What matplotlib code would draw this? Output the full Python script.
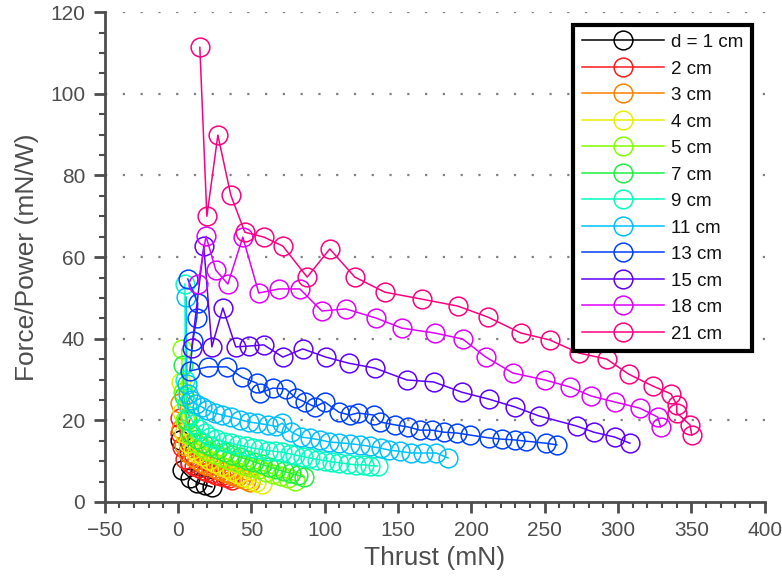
import matplotlib
matplotlib.use('Agg')
from matplotlib import pyplot as plt
from matplotlib.ticker import MultipleLocator

plt.rcParams['font.family'] = ['Liberation Sans Narrow', 'Liberation Sans', 'DejaVu Sans']

labels = ['d = 1 cm', '2 cm', '3 cm', '4 cm', '5 cm', '7 cm', '9 cm', '11 cm', '13 cm', '15 cm', '18 cm', '21 cm']
colors = ['#000000', '#ff1a1a', '#ff8000', '#e6f000', '#80ff00', '#20f040',
          '#00ffc0', '#00c0ff', '#0040ff', '#6000ff', '#e000ff', '#ff0080']

# thrust (mN) and force/power (mN/W) per distance
t1 = [1, 2.5, 8, 13, 18, 23]
f1 = [15.2, 7.8, 5.9, 4.7, 4.2, 3.7]

t2 = [1, 1.5, 2.5, 5, 8, 11, 14, 17, 20, 23, 26, 29, 32, 35, 37]
f2 = [20.6, 17, 13.5, 10.5, 9.5, 8.8, 8.3, 7.8, 7.4, 7, 6.7, 6.4, 6.1, 5.8, 5.4]

t3 = [1.5, 2, 4, 7, 10, 13, 16, 19, 22, 25, 28, 31, 34, 37, 40, 43, 46, 49]
f3 = [24.2, 18, 14, 12, 11, 10.2, 9.6, 9.1, 8.7, 8.2, 7.8, 7.4, 7, 6.6, 6.2, 5.8, 5.4, 5]

t4 = [2, 2.5, 4, 7, 10, 13, 17, 21, 25, 29, 33, 37, 41, 45, 49, 53, 57]
f4 = [29.5, 22, 17, 14.5, 13, 12, 11.2, 10.4, 9.6, 8.8, 8.2, 7.5, 6.9, 6.2, 5.6, 5, 4.3]

t5 = [2.5, 3, 5, 8, 12, 16, 20, 25, 30, 35, 40, 45, 50, 55, 60, 65, 70, 75, 80]
f5 = [37.5, 27, 20, 16.5, 14.5, 13.5, 12.5, 11.7, 11, 10.3, 9.7, 9.1, 8.5, 8, 7.4, 6.9, 6.3, 5.8, 5.2]

t7 = [3.5, 4, 6, 9, 13, 17, 22, 27, 32, 37, 42, 47, 52, 57, 62, 67, 72, 77, 82, 86]
f7 = [33.5, 26, 20, 17, 15.5, 14.5, 13.8, 13, 12.3, 11.6, 11, 10.4, 9.8, 9.2, 8.6, 8, 7.5, 7, 6.5, 6.2]

t9 = [4.6, 5, 6, 8, 11, 14, 18, 22, 26, 31, 36, 41, 46, 51, 56, 61, 66, 71, 76, 80,
      85, 90, 95, 100, 105, 110, 116, 121, 127, 131, 136]
f9 = [53.4, 30, 24, 21, 19, 17.8, 16.8, 16, 15.4, 14.8, 14.4, 14, 13.6, 13.2, 12.9, 12.6, 12.4, 12.2, 11.8, 11.5,
      11.1, 10.8, 10.4, 10.1, 9.8, 9.6, 9.3, 9.1, 9.1, 8.9, 8.8]

t11 = [5.5, 6, 7, 9, 12, 16, 20, 25, 30, 36, 42, 48, 54, 61, 67, 71, 77, 84, 90, 97,
       103, 110, 117, 124, 131, 138, 144, 151, 159, 167, 176, 184]
f11 = [50.2, 29, 26.5, 25, 24, 23.3, 22.5, 21.8, 21.3, 20.8, 20.2, 19.6, 19.3, 18.9, 18.5, 19.3, 17.2, 15.9, 15.6, 15.2,
       14.7, 14.5, 14.3, 14, 13.6, 13.2, 12.7, 12.4, 12, 12, 12, 10.8]

t13 = [6.6, 13.4, 12.7, 10, 8, 20.3, 33.2, 43.4, 53.7, 55.7, 64.6, 73.4, 80.2, 86.4, 93.2, 100, 109.6, 117, 122.5, 133.4,
       137.5, 147.7, 156.6, 164.8, 173, 181.1, 190, 198.9, 211.8, 220.7, 229.5, 237, 250.7, 258.2]
f13 = [54.6, 48.7, 45.1, 39.4, 32.1, 33.1, 33.1, 30.6, 29.1, 26.7, 27.9, 27.7, 25.5, 24.5, 23.3, 24.5, 22, 21.3, 21.8, 21.3,
       19.6, 18.9, 18.4, 17.6, 17.6, 17.1, 16.9, 16.4, 15.7, 15.4, 15.2, 14.9, 14.4, 14.0]

t15 = [9.3, 17.5, 23, 30.5, 39.3, 48.2, 58.4, 71.4, 85, 100.7, 116.4, 134.1, 155.9, 174.3, 193.4, 211.8, 229.5, 245.9,
       271.8, 283.4, 297.7, 308]
f15 = [37.7, 62.7, 38.0, 47.5, 38.0, 38.2, 38.5, 35.5, 37.5, 35.5, 34.0, 32.8, 29.9, 29.4, 26.9, 25.2, 23.3, 21.1,
       18.6, 17.1, 15.9, 14.4]

t18 = [13.6, 19, 25.7, 33.9, 44.1, 55, 68.7, 83, 98, 114.3, 134.7, 152.5, 175, 194.1, 209.8, 228.2, 250, 267,
       281.3, 297.7, 314.7, 327, 329]
f18 = [53.4, 65.1, 56.8, 53.4, 64.9, 51.2, 52.2, 52.2, 46.8, 47.3, 45.1, 42.6, 41.4, 39.9, 35.5, 31.6, 29.9, 28.2,
       26.0, 24.5, 23.0, 20.8, 18.4]

t21 = [14.8, 19.6, 27.1, 35.9, 45.5, 58.5, 71.4, 88, 103.4, 120.5, 141, 166.2, 190.7, 211.2, 233.7, 253.4, 273.2,
       292.3, 307.3, 323.7, 336, 340, 340, 349, 350.2]
f21 = [111.4, 70.0, 89.9, 75.2, 66.1, 64.9, 62.7, 55.1, 62.0, 55.1, 51.4, 49.7, 48.0, 45.3, 41.4, 39.7, 36.5,
       35.0, 31.3, 28.4, 26.5, 23.8, 21.8, 18.9, 16.4]

thrust = [t1, t2, t3, t4, t5, t7, t9, t11, t13, t15, t18, t21]
ratio = [f1, f2, f3, f4, f5, f7, f9, f11, f13, f15, f18, f21]

fig = plt.figure(figsize=(7.82, 5.83), dpi=100)
ax = fig.add_axes([0.134, 0.139, 0.844, 0.840])

for t, f, c, lab in zip(thrust, ratio, colors, labels):
    ax.plot(t, f, color=c, lw=1.1, marker='o', markersize=13.5,
            markerfacecolor='none', markeredgecolor=c, markeredgewidth=1.1, label=lab)

ax.set_xlim(-50, 400)
ax.set_ylim(0, 120)
ax.xaxis.set_major_locator(MultipleLocator(50))
ax.xaxis.set_minor_locator(MultipleLocator(10))
ax.yaxis.set_major_locator(MultipleLocator(20))
ax.yaxis.set_minor_locator(MultipleLocator(5))

gray = '#4d4d4d'
for s in ['top', 'right']:
    ax.spines[s].set_visible(False)
for s in ['left', 'bottom']:
    ax.spines[s].set_color(gray)
    ax.spines[s].set_linewidth(2)
ax.tick_params(which='major', direction='out', length=8, width=2, color=gray,
               labelcolor=gray, labelsize=15, pad=6)
ax.tick_params(which='minor', direction='out', length=4.5, width=1.5, color=gray)

for yv in [20, 40, 60, 80, 100, 120]:
    ax.axhline(yv, color='#808080', lw=1.6, ls=(0, (1, 7)), zorder=0)

ax.set_xlabel('Thrust (mN)', fontsize=19, color=gray, labelpad=4)
ax.set_ylabel('Force/Power (mN/W)', fontsize=19, color=gray, labelpad=8)

leg = ax.legend(loc='upper right', bbox_to_anchor=(0.98, 0.973), borderaxespad=0,
                fancybox=False, framealpha=1, edgecolor='black',
                prop={'family': ['Liberation Sans', 'DejaVu Sans'], 'size': 13.5},
                labelspacing=0.5, handlelength=4.4, handletextpad=0.35,
                borderpad=0.45)
leg.get_frame().set_linewidth(3)
for txt in leg.get_texts():
    txt.set_color('#111111')

fig.savefig('out.png', dpi=100)
